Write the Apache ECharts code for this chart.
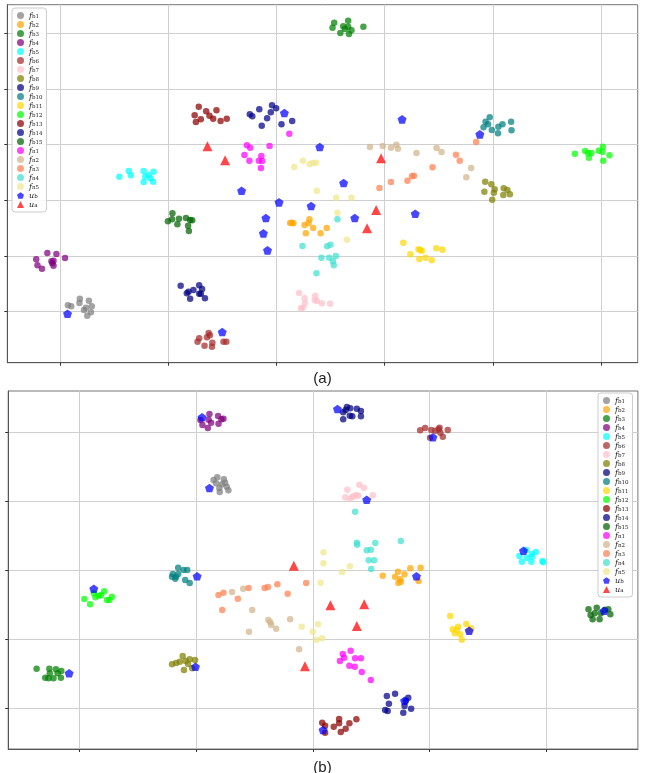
<!DOCTYPE html>
<html><head><meta charset="utf-8">
<script src="https://cdn.jsdelivr.net/npm/echarts@6/dist/echarts.min.js"></script>
<style>html,body{margin:0;padding:0;background:#fff}#c{width:645px;height:773px}</style>
</head><body><div id="c"></div>
<script>
// ---- legend names & colours ----
const names = ['f_b1','f_b2','f_b3','f_b4','f_b5','f_b6','f_b7','f_b8','f_b9','f_b10','f_b11','f_b12','f_b13','f_b14','f_b15','f_n1','f_n2','f_n3','f_n4','f_n5','u_b','u_a'];
const colors = ['#808080','#ffa500','#008000','#800080','#00ffff','#a52a2a','#ffc0cb','#808000','#000080','#008080','#ffd700','#00ff00','#8b0000','#00008b','#006400','#ff00ff','#d2b48c','#ff7f50','#40e0d0','#f0e68c','#0000ff','#ff0000'];

// ---- grid line (tick) values ----
const aTicksX = [0, 262.6, 525.2, 787.8, 1050.4, 1313];
const aTicksY = [0, 167, 334, 501, 668, 835];
const bTicksX = [0, 283.5, 567, 850.5, 1134];
const bTicksY = [0, 207, 414, 621, 828];
const aRangeX = [-129.3, 1402.6], aRangeY = [-153, 921];
const bRangeX = [-173, 1357], bRangeY = [-121, 953];

// ---- panel (a) data ----
const a_b1 = [[18,19],[26,16],[47,39],[46,26],[69,33],[57,5],[65,-12],[76,16],[74,-2],[62,12]];
const a_b2 = [[558,266],[566,265],[593,260],[605,277],[603,266],[614,251],[596,235],[632,235],[647,251],[562,267]];
const a_b3 = [[665,867],[699,873],[661,852],[687,856],[699,855],[736,855],[680,836],[701,833],[707,844],[691,848]];
const a_b4 = [[-32,176],[-10,173],[-59,157],[-17,153],[11,161],[-56,139],[-45,129],[-20,145],[-17,138],[-22,151]];
const a_b5 = [[143,405],[166,422],[171,409],[202,422],[226,420],[206,405],[214,410],[225,390],[202,389],[219,400]];
const a_b6 = [[337,-80],[333,-90],[350,-102],[360,-64],[363,-71],[369,-93],[368,-105],[396,-90],[403,-90],[356,-77]];
const a_b7 = [[580,56],[593,40],[619,48],[618,35],[623,32],[635,25],[655,24],[594,25],[589,12],[584,10]];
const a_b8 = [[1032,390],[1047,382],[1030,360],[1055,367],[1053,357],[1049,336],[1077,370],[1086,365],[1076,350],[1092,352]];
const a_b9 = [[292,78],[307,55],[315,39],[323,65],[337,79],[344,68],[337,54],[351,40],[311,60],[341,54]];
const a_b10 = [[1043,583],[1033,570],[1028,553],[1039,562],[1048,545],[1064,555],[1074,562],[1095,570],[1063,535],[1096,544]];
const a_b11 = [[833,207],[850,172],[870,187],[878,183],[872,158],[887,162],[902,154],[913,190],[928,186],[874,185]];
const a_b12 = [[1250,474],[1275,482],[1284,462],[1290,476],[1282,476],[1308,483],[1317,480],[1318,495],[1334,469],[1319,453]];
const a_b13 = [[336,615],[326,589],[354,601],[379,604],[341,577],[362,588],[329,569],[371,579],[389,572],[404,579]];
const a_b14 = [[483,607],[460,592],[466,586],[514,619],[524,610],[511,598],[502,580],[489,558],[537,562],[563,572]];
const a_b15 = [[272,295],[261,271],[271,277],[288,279],[284,262],[305,281],[315,275],[310,258],[320,274],[312,242]];
const a_n1 = [[556,534],[453,499],[461,492],[508,497],[447,470],[459,453],[488,467],[482,453],[490,452],[487,431]];
const a_n2 = [[752,494],[783,497],[803,492],[816,501],[820,489],[865,476],[914,491],[926,479],[998,431],[986,403]];
const a_n3 = [[1010,509],[961,471],[970,453],[904,433],[859,408],[854,406],[843,393],[803,389],[775,371]];
const a_n4 = [[673,277],[588,197],[648,196],[656,201],[634,162],[653,162],[669,167],[662,151],[664,139],[622,115]];
const a_n5 = [[568,434],[589,453],[605,443],[613,446],[621,447],[623,363],[670,342],[707,342],[673,297],[696,216]];
const a_ub = [[544,596],[830,577],[1019,532],[630,494],[688,386],[440,363],[531,328],[609,317],[862,294],[499,281],[715,281],[493,235],[503,184],[17,-6],[393,-61]];
const a_ua = [[357,496],[400,454],[779,460],[767,305],[745,250]];

// ---- panel (b) data ----
const b_b1 = [[326,686],[335,694],[351,688],[346,673],[340,662],[358,666],[362,655],[341,650],[354,678],[332,676]];
const b_b2 = [[737,399],[767,396],[774,411],[790,403],[804,421],[829,423],[775,377],[781,381],[824,383],[779,388]];
const b_b3 = [[-104,120],[-73,120],[-57,118],[-83,93],[-75,91],[-63,91],[-45,93],[-44,113],[-53,106],[-72,106]];
const b_b4 = [[316,884],[314,867],[320,858],[299,851],[312,842],[294,866],[337,878],[350,870],[338,855],[345,868]];
const b_b5 = [[1069,458],[1086,476],[1099,464],[1109,470],[1087,453],[1075,441],[1098,441],[1125,443],[1127,439],[1100,456]];
const b_b6 = [[828,835],[840,842],[855,836],[875,843],[877,828],[895,836],[852,813],[883,816],[865,834],[873,838]];
const b_b7 = [[651,657],[680,672],[691,663],[646,634],[657,630],[667,637],[678,639],[713,640],[663,636],[673,641]];
const b_b8 = [[225,133],[235,137],[251,158],[258,143],[268,148],[281,146],[254,116],[274,121],[264,134],[244,141]];
const b_b9 = [[641,889],[650,905],[658,901],[674,900],[684,893],[657,879],[663,877],[684,877],[641,868],[647,896]];
const b_b10 = [[227,404],[240,423],[253,416],[262,416],[225,396],[233,390],[240,404],[257,386],[268,377],[235,396]];
const b_b11 = [[901,278],[907,238],[912,226],[920,246],[925,223],[929,207],[940,254],[952,241],[917,236],[947,234]];
const b_b12 = [[12,329],[26,313],[39,334],[47,339],[60,352],[67,326],[73,326],[79,336],[53,341],[35,346]];
const b_b13 = [[590,-42],[597,-51],[597,-72],[618,-54],[631,-31],[631,-44],[635,-70],[647,-60],[656,-44],[673,-32]];
const b_b14 = [[747,38],[767,45],[752,15],[743,-4],[749,-7],[787,-12],[806,0],[790,8],[799,33],[793,24]];
const b_b15 = [[1237,298],[1257,303],[1285,298],[1290,283],[1242,281],[1247,268],[1264,268],[1267,286],[1277,296],[1252,286]];
const b_n1 = [[633,143],[640,164],[659,174],[670,151],[684,151],[656,129],[669,126],[686,110],[708,86],[643,153]];
const b_n2 = [[371,350],[398,360],[420,296],[412,231],[459,266],[464,259],[466,251],[478,240],[512,268],[534,178]];
const b_n3 = [[338,341],[350,348],[347,296],[385,330],[411,362],[450,362],[458,365],[481,373],[506,345],[551,377]];
const b_n4 = [[670,591],[674,498],[675,492],[719,497],[698,475],[708,477],[703,445],[716,445],[709,419],[781,503]];
const b_n5 = [[593,469],[593,436],[657,427],[638,410],[586,378],[540,246],[580,253],[567,231],[576,207],[590,211]];
const b_ub = [[298,874],[627,899],[859,814],[316,662],[698,627],[819,397],[286,397],[1079,474],[35,360],[1275,294],[947,234],[-25,106],[282,126],[790,24],[592,-64]];
const b_ua = [[521,429],[610,310],[692,313],[674,248],[548,127]];

const aData = [a_b1,a_b2,a_b3,a_b4,a_b5,a_b6,a_b7,a_b8,a_b9,a_b10,a_b11,a_b12,a_b13,a_b14,a_b15,a_n1,a_n2,a_n3,a_n4,a_n5,a_ub,a_ua];
const bData = [b_b1,b_b2,b_b3,b_b4,b_b5,b_b6,b_b7,b_b8,b_b9,b_b10,b_b11,b_b12,b_b13,b_b14,b_b15,b_n1,b_n2,b_n3,b_n4,b_n5,b_ub,b_ua];

const pentagon = 'path://M50,0 L97.55,34.55 L79.39,90.45 L20.61,90.45 L2.45,34.55 Z';
function symFor(i){ return names[i]==='u_b' ? pentagon : (names[i]==='u_a' ? 'triangle' : 'circle'); }
function sizeFor(i){ return names[i]==='u_b' ? 9 : (names[i]==='u_a' ? 10 : 6.5); }

const series = [];
[aData, bData].forEach((set, k) => {
  set.forEach((d, i) => {
    series.push({
      name: names[i], type: 'scatter', xAxisIndex: k, yAxisIndex: k,
      data: d, symbol: symFor(i), symbolSize: sizeFor(i), symbolKeepAspect: true,
      itemStyle: { color: colors[i], opacity: 0.72 },
      z: i >= 20 ? 5 : 2, silent: true, animation: false
    });
  });
});

function axis(k, ticks, range){
  return { type:'value', gridIndex:k, min:range[0], max:range[1],
    axisLine:{show:true, onZero:false, lineStyle:{color:'#555', width:1}},
    axisTick:{show:true, customValues:ticks, length:3, lineStyle:{color:'#333'}},
    axisLabel:{show:false, customValues:ticks},
    splitLine:{show:true, lineStyle:{color:'#cfcfcf', width:1}} };
}

const legendFmt = n => { const p = n.split('_'); return '{m|' + p[0] + '}{s|' + p[1] + '}'; };
const legendRich = {
  m: { fontFamily:'DejaVu Serif', fontStyle:'italic', fontSize:8, color:'#222', lineHeight:9, verticalAlign:'middle' },
  s: { fontFamily:'DejaVu Serif', fontSize:5.5, color:'#222', lineHeight:9, verticalAlign:'bottom' }
};
function legend(pos){
  return Object.assign({
    data: names, orient:'vertical', itemWidth:7, itemHeight:7, itemGap:0,
    padding:[3,4,3,5], borderColor:'#cccccc', borderWidth:1, borderRadius:3,
    backgroundColor:'rgba(255,255,255,0.85)', selectedMode:false,
    formatter: legendFmt, textStyle:{ fontSize:8, lineHeight:9, rich: legendRich }
  }, pos);
}

const chart = echarts.init(document.getElementById('c'), null, {renderer:'canvas'});
chart.setOption({
  animation:false,
  backgroundColor:'#ffffff',
  title:[
    {text:'(a)', left:'center', top:366, textStyle:{fontFamily:'Liberation Sans', fontSize:15, fontWeight:'normal', color:'#222'}},
    {text:'(b)', left:'center', top:755, textStyle:{fontFamily:'Liberation Sans', fontSize:15, fontWeight:'normal', color:'#222'}}
  ],
  grid:[
    {left:7.3, top:4.7, width:630.4, height:358, show:true, borderColor:'#777', borderWidth:1},
    {left:8.2, top:391, width:629.7, height:358, show:true, borderColor:'#777', borderWidth:1}
  ],
  xAxis:[axis(0, aTicksX, aRangeX), axis(1, bTicksX, bRangeX)],
  yAxis:[axis(0, aTicksY, aRangeY), axis(1, bTicksY, bRangeY)],
  legend:[legend({left:12, top:8}), legend({left:598, top:393})],
  series: series
});
</script></body></html>
